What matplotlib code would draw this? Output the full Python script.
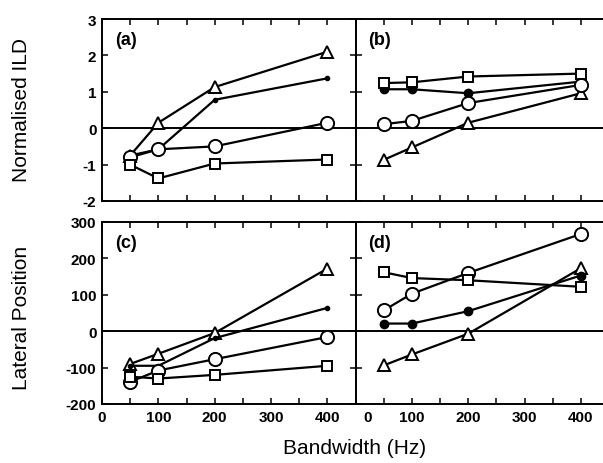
import matplotlib
matplotlib.use("Agg")
import matplotlib.pyplot as plt
import matplotlib.transforms as mtransforms

plt.rcParams['font.family'] = ['Liberation Sans', 'DejaVu Sans']
plt.rcParams['axes.unicode_minus'] = False

bw = [50, 100, 200, 400]

# Panel (a): Normalised ILD
a_tri = [-0.75, 0.15, 1.13, 2.10]
a_dot = [-0.75, -0.58, 0.78, 1.37]
a_circ = [-0.80, -0.58, -0.50, 0.15]
a_sq = [-1.00, -1.38, -0.97, -0.86]

# Panel (b): Normalised ILD
b_sq = [1.24, 1.26, 1.42, 1.50]
b_dot = [1.07, 1.07, 0.96, 1.28]
b_circ = [0.11, 0.20, 0.69, 1.19]
b_tri = [-0.87, -0.53, 0.15, 0.96]

# Panel (c): Lateral position
c_tri = [-90, -62, -5, 172]
c_dot = [-95, -95, -19, 64]
c_circ = [-139, -108, -77, -16]
c_sq = [-125, -130, -120, -95]

# Panel (d): Lateral position
d_sq = [162, 146, 140, 122]
d_circ = [57, 103, 160, 267]
d_dot = [21, 21, 55, 153]
d_tri = [-94, -64, -7, 173]

xticks = [0, 100, 200, 300, 400]
xticklabels = ['0', '100', '200', '300', '400']
ild_ticks = [-2, -1, 0, 1, 2, 3]
lat_ticks = [-200, -100, 0, 100, 200, 300]

W, H = 603, 464
fig = plt.figure(figsize=(W / 100, H / 100), dpi=100)

def pos(x0, x1, y0, y1):
    return [x0 / W, 1 - y1 / H, (x1 - x0) / W, (y1 - y0) / H]

ax_a = fig.add_axes(pos(102, 355.5, 20, 202))
ax_b = fig.add_axes(pos(355.5, 609, 20, 202))
ax_c = fig.add_axes(pos(102, 355.5, 223, 405))
ax_d = fig.add_axes(pos(355.5, 609, 223, 405))

lw = 1.6
def style(ax):
    ax.set_xlim(0, 450)
    ax.axhline(0, color='black', lw=1.4, zorder=1)
    for s in ax.spines.values():
        s.set_linewidth(1.4)
    ax.set_xticks(xticks)
    ax.set_xticks([50, 150, 250, 350], minor=True)
    ax.tick_params(which='both', direction='in', top=True, right=True,
                   length=4, width=1.1, labelsize=11, pad=4)

def plot_series(ax, tri, dot, circ, sq, dotsize):
    ax.plot(bw, tri, '-', color='black', lw=lw, marker='^', ms=8,
            mfc='white', mec='black', mew=1.4, zorder=3)
    ax.plot(bw, dot, '-', color='black', lw=lw, marker='o', ms=dotsize,
            mfc='black', mec='black', zorder=3)
    ax.plot(bw, circ, '-', color='black', lw=lw, marker='o', ms=9.5,
            mfc='white', mec='black', mew=1.4, zorder=3)
    ax.plot(bw, sq, '-', color='black', lw=lw, marker='s', ms=7.5,
            mfc='white', mec='black', mew=1.4, zorder=3)

plot_series(ax_a, a_tri, a_dot, a_circ, a_sq, 3)
plot_series(ax_b, b_tri, b_dot, b_circ, b_sq, 6)
plot_series(ax_c, c_tri, c_dot, c_circ, c_sq, 3)
plot_series(ax_d, d_tri, d_dot, d_circ, d_sq, 6)

for ax in (ax_a, ax_b):
    style(ax)
    ax.set_ylim(-2, 3)
    ax.set_yticks(ild_ticks)
    ax.tick_params(labelbottom=False)
for ax in (ax_c, ax_d):
    style(ax)
    ax.set_ylim(-200, 300)
    ax.set_yticks(lat_ticks)
for ax in (ax_b, ax_d):
    ax.tick_params(labelleft=False)

ax_c.set_xticklabels(xticklabels)
ax_d.set_xticklabels([''] + xticklabels[1:])

for ax in (ax_a, ax_b, ax_c, ax_d):
    for lab in ax.get_yticklabels() + ax.get_xticklabels():
        lab.set_fontweight('bold')

# right panel's "0" label sits shifted right in the reference
fig.text(368 / W, 1 - 411 / H, xticklabels[0],
         fontsize=11, fontweight='bold', ha='center', va='top', zorder=10)

for ax, t in ((ax_a, '(a)'), (ax_b, '(b)'), (ax_c, '(c)'), (ax_d, '(d)')):
    ax.text(0.05, 0.89, t, transform=ax.transAxes, fontsize=13,
            fontweight='bold', ha='left', va='center')

fig.text(22 / W, 1 - 110 / H, 'Normalised ILD', rotation=90, fontsize=15,
         ha='center', va='center')
fig.text(22 / W, 1 - 318 / H, 'Lateral Position', rotation=90, fontsize=15,
         ha='center', va='center')
fig.text(355 / W, 1 - 449 / H, 'Bandwidth (Hz)', fontsize=15,
         ha='center', va='center')

fig.savefig('out.png', dpi=100)
